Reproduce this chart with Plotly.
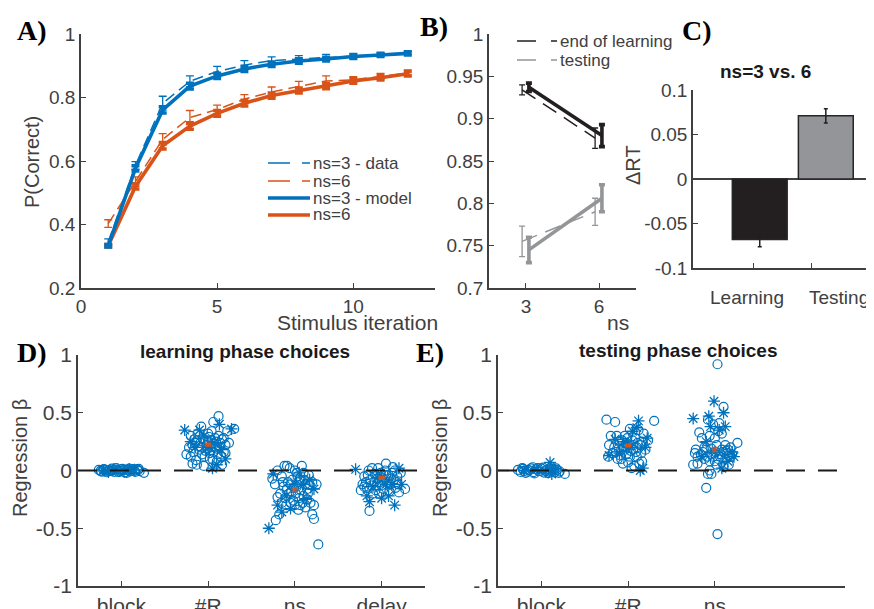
import plotly.graph_objects as go

W, H = 874, 609
PAGE_OFF = 8  # the page body offsets the figure by 8px

def px(x):
    return (x - PAGE_OFF) / W

def py(y):
    return 1 - (y - PAGE_OFF) / H

BLUE = "#0072BD"
RED = "#D95319"
DARK = "#231F20"
GRAY = "#939598"
AX = "#404040"
FONT = "Liberation Sans, Arial, Helvetica, sans-serif"
SERIF = "Liberation Serif, Times New Roman, serif"

# ---------------- Panel A data ----------------
iters = [1, 2, 3, 4, 5, 6, 7, 8, 9, 10, 11, 12]
a_ns3_data = [0.345, 0.586, 0.782, 0.851, 0.882, 0.902, 0.916, 0.922, 0.926, 0.930, 0.935, 0.940]
a_ns3_data_err = [0.010, 0.012, 0.022, 0.017, 0.016, 0.014, 0.012, 0.010, 0.010, 0.008, 0.006, 0.005]
a_ns6_data = [0.403, 0.535, 0.668, 0.737, 0.762, 0.795, 0.817, 0.835, 0.852, 0.856, 0.866, 0.877]
a_ns6_data_err = [0.012, 0.015, 0.018, 0.022, 0.014, 0.014, 0.016, 0.016, 0.016, 0.010, 0.010, 0.010]
a_ns3_model = [0.333, 0.577, 0.761, 0.836, 0.868, 0.890, 0.905, 0.915, 0.921, 0.929, 0.934, 0.939]
a_ns3_model_err = [0.004, 0.008, 0.010, 0.009, 0.008, 0.008, 0.007, 0.007, 0.006, 0.006, 0.005, 0.005]
a_ns6_model = [0.333, 0.520, 0.648, 0.710, 0.750, 0.782, 0.806, 0.822, 0.836, 0.852, 0.862, 0.875]
a_ns6_model_err = [0.004, 0.008, 0.010, 0.010, 0.009, 0.009, 0.008, 0.008, 0.008, 0.007, 0.007, 0.007]
a_legend = ["ns=3 - data", "ns=6", "ns=3 - model", "ns=6"]

# ---------------- Panel B data ----------------
b_ns = [3, 6]
b_end_data = [0.934, 0.877]
b_end_data_err = [0.006, 0.012]
b_end_model = [0.937, 0.880]
b_end_model_err = [0.005, 0.013]
b_test_data = [0.755, 0.790]
b_test_data_err = [0.018, 0.016]
b_test_model = [0.745, 0.806]
b_test_model_err = [0.015, 0.016]
b_legend = ["end of learning", "testing"]

# ---------------- Panel C data ----------------
c_labels = ["Learning", "Testing"]
c_values = [-0.068, 0.071]
c_err = [0.008, 0.008]

# ---------------- Panel D/E data ----------------
d_cats = ["block", "#R", "ns", "delay"]
e_cats = ["block", "#R", "ns"]
d_means = [0.0, 0.225, -0.165, -0.065]
d_sems = [0.004, 0.012, 0.016, 0.010]
e_means = [0.0, 0.215, 0.182]
e_sems = [0.004, 0.010, 0.018]

# (offset, beta) pairs per cluster
d_block_circles = [(-0.26, 0.005), (-0.23, -0.01), (-0.2, 0.012), (-0.17, -0.015), (-0.14, 0.003),
                   (-0.11, 0.016), (-0.08, -0.012), (-0.05, 0.008), (-0.02, -0.004), (0.01, 0.014),
                   (0.04, -0.016), (0.07, 0.006), (0.1, -0.008), (0.13, 0.012), (0.16, -0.012),
                   (0.19, 0.004), (0.21, -0.006), (-0.24, -0.004), (-0.18, 0.0), (-0.12, -0.006),
                   (-0.06, 0.02), (0.0, 0.0), (0.06, -0.02), (0.12, 0.0), (0.18, 0.012), (0.26, -0.02),
                   (-0.21, 0.008), (-0.15, -0.008), (-0.09, 0.004), (-0.03, -0.014), (0.03, 0.006),
                   (0.09, 0.016), (0.15, -0.004), (0.2, 0.014)]
d_block_stars = [(-0.21, 0.0), (-0.09, 0.01), (0.03, -0.01), (0.15, 0.006), (-0.15, -0.012), (0.09, 0.014)]

d_R_circles = [(-0.25, 0.14), (-0.22, 0.2), (-0.2, 0.3), (-0.18, 0.06), (-0.15, 0.24), (-0.13, 0.05),
               (-0.1, 0.18), (-0.08, 0.38), (-0.06, 0.28), (-0.04, 0.12), (-0.02, 0.22), (0.0, 0.32),
               (0.02, 0.15), (0.04, 0.26), (0.06, 0.42), (0.08, 0.2), (0.1, 0.08), (0.12, 0.3),
               (0.14, 0.24), (0.16, 0.05), (0.18, 0.16), (0.2, 0.22), (0.22, 0.34), (0.3, 0.36),
               (0.12, 0.47), (-0.12, 0.32), (0.05, 0.1), (-0.05, 0.04), (0.15, 0.12), (-0.17, 0.16),
               (0.0, 0.25), (0.08, 0.28), (-0.09, 0.24), (0.1, 0.19), (0.18, 0.28), (-0.2, 0.12),
               (0.03, 0.2), (0.11, 0.14), (-0.14, 0.09), (0.24, 0.24), (-0.03, 0.17), (0.07, 0.23),
               (-0.11, 0.21), (0.01, 0.29), (0.13, 0.2), (-0.07, 0.14), (0.04, 0.34), (-0.16, 0.27),
               (-0.01, 0.19), (0.06, 0.16), (-0.08, 0.2), (0.09, 0.25), (-0.13, 0.26), (0.16, 0.27),
               (-0.04, 0.26), (0.02, 0.1), (-0.18, 0.22), (0.2, 0.15)]
d_R_stars = [(-0.27, 0.35), (-0.1, 0.35), (0.27, 0.36), (0.05, 0.02), (-0.05, 0.3), (0.1, 0.05),
             (0.0, 0.2), (0.15, 0.18), (-0.2, 0.25), (0.2, 0.1), (-0.15, 0.2), (0.07, 0.24), (0.13, 0.4)]

d_ns_circles = [(-0.26, -0.07), (-0.23, -0.12), (-0.2, -0.23), (-0.17, -0.2), (-0.15, -0.05), (-0.12, 0.04),
                (-0.1, -0.3), (-0.08, -0.1), (-0.06, 0.02), (-0.04, -0.18), (-0.02, -0.26), (0.0, 0.0),
                (0.02, -0.14), (0.04, -0.34), (0.06, -0.08), (0.08, 0.04), (0.1, -0.22), (0.12, -0.12),
                (0.14, -0.16), (0.16, -0.04), (0.18, -0.28), (0.2, -0.1), (0.22, -0.3), (0.25, -0.12),
                (-0.22, -0.43), (-0.18, -0.38), (0.2, -0.38), (0.22, -0.42), (0.27, -0.64), (-0.09, 0.04),
                (0.03, -0.05), (-0.13, -0.14), (0.1, -0.02), (-0.03, -0.08), (0.05, -0.24), (0.15, -0.2),
                (-0.07, -0.2), (0.0, -0.3), (0.12, -0.32), (-0.2, 0.0), (-0.01, -0.15), (0.07, -0.17),
                (-0.11, -0.24), (0.09, -0.28), (-0.05, -0.12), (0.17, -0.12), (0.04, -0.1), (-0.15, -0.28),
                (-0.09, -0.16), (0.01, -0.2), (0.11, -0.08), (-0.05, -0.28), (0.06, -0.3), (-0.14, -0.1),
                (0.14, -0.25), (0.02, -0.02)]
d_ns_stars = [(-0.3, -0.5), (-0.15, -0.36), (-0.05, -0.33), (0.05, -0.02), (0.1, -0.12), (0.17, -0.08),
              (0.22, -0.16), (-0.1, -0.22), (0.0, -0.12), (-0.2, -0.3), (0.13, -0.25), (-0.25, -0.03)]

d_delay_circles = [(-0.24, -0.17), (-0.22, -0.12), (-0.2, -0.05), (-0.17, -0.15), (-0.15, 0.0), (-0.13, -0.08),
                   (-0.1, -0.2), (-0.08, -0.03), (-0.06, -0.14), (-0.04, 0.02), (-0.02, -0.1), (0.0, -0.06),
                   (0.02, -0.16), (0.04, 0.0), (0.06, -0.1), (0.08, -0.04), (0.1, -0.12), (0.12, -0.02),
                   (0.14, -0.08), (0.16, -0.15), (0.18, -0.05), (0.2, -0.19), (0.22, -0.02), (0.27, -0.16),
                   (-0.14, -0.35), (0.05, 0.06), (-0.03, -0.2), (0.09, -0.18), (-0.18, -0.1), (0.13, 0.03),
                   (0.0, -0.13), (-0.08, -0.1), (0.11, -0.07), (-0.11, 0.02), (-0.01, -0.02), (0.07, -0.13),
                   (-0.12, -0.13), (0.03, -0.08), (0.17, -0.1), (-0.05, -0.07), (-0.16, -0.04), (0.19, -0.12),
                   (-0.07, -0.17), (0.05, -0.04), (0.15, 0.0), (-0.2, -0.14)]
d_delay_stars = [(-0.3, 0.01), (-0.17, -0.22), (-0.14, -0.27), (0.0, -0.24), (0.08, -0.22), (0.15, -0.3),
                 (0.2, 0.02), (0.23, -0.12), (-0.05, -0.06), (0.05, -0.12), (-0.1, -0.14), (0.12, -0.12)]

e_block_circles = [(-0.27, 0.005), (-0.24, -0.012), (-0.21, 0.014), (-0.18, -0.02), (-0.15, 0.006),
                   (-0.12, 0.018), (-0.09, -0.014), (-0.06, 0.01), (-0.03, -0.006), (0.0, 0.016),
                   (0.03, -0.018), (0.06, 0.008), (0.09, -0.01), (0.12, 0.014), (0.15, -0.016),
                   (0.18, 0.004), (0.21, -0.008), (-0.2, -0.004), (-0.14, 0.0), (-0.08, -0.025),
                   (0.02, 0.025), (0.08, -0.022), (0.14, 0.01), (0.27, -0.03), (-0.1, 0.028), (0.11, 0.03),
                   (-0.22, 0.02), (-0.16, -0.01), (-0.04, 0.02), (0.05, -0.005), (0.17, 0.018), (0.2, -0.02)]
e_block_stars = [(0.1, 0.07), (-0.2, 0.0), (-0.05, 0.01), (0.05, -0.01), (0.16, 0.006), (0.12, -0.03)]

e_R_circles = [(-0.25, 0.44), (-0.22, 0.22), (-0.2, 0.3), (-0.18, 0.15), (-0.15, 0.42), (-0.12, 0.1),
               (-0.1, 0.25), (-0.08, 0.18), (-0.06, 0.06), (-0.04, 0.3), (-0.02, 0.14), (0.0, 0.22),
               (0.02, 0.36), (0.04, 0.02), (0.06, 0.18), (0.08, 0.28), (0.1, 0.12), (0.12, 0.35),
               (0.14, 0.22), (0.16, 0.08), (0.2, 0.18), (0.23, 0.26), (0.3, 0.43), (-0.23, 0.12),
               (0.07, 0.04), (-0.03, 0.2), (0.11, 0.24), (-0.13, 0.3), (0.02, 0.12), (0.18, 0.32),
               (-0.07, 0.26), (0.09, 0.16), (0.0, 0.07), (-0.16, 0.2), (0.13, 0.06), (-0.01, 0.28),
               (0.05, 0.26), (-0.09, 0.13), (0.15, 0.15), (-0.05, 0.21), (0.03, 0.17), (-0.11, 0.19),
               (-0.14, 0.16), (0.06, 0.22), (-0.02, 0.24), (0.1, 0.2), (-0.08, 0.1), (0.16, 0.25)]
e_R_stars = [(-0.22, 0.13), (0.1, 0.37), (0.12, 0.43), (0.22, 0.28), (0.17, 0.02), (0.14, 0.0),
             (-0.05, 0.25), (0.05, 0.34), (0.0, 0.2), (-0.1, 0.15), (0.2, 0.2), (-0.15, 0.27)]

e_ns_circles = [(-0.25, 0.05), (-0.22, 0.18), (-0.2, 0.12), (-0.18, 0.33), (-0.15, 0.28), (-0.12, 0.1),
                (-0.1, 0.18), (-0.08, 0.44), (-0.06, 0.3), (-0.04, 0.14), (-0.02, 0.4), (0.0, 0.08),
                (0.02, 0.22), (0.04, 0.34), (0.06, 0.12), (0.08, 0.18), (0.1, 0.55), (0.12, 0.1),
                (0.14, 0.15), (0.16, 0.05), (0.18, 0.2), (0.2, 0.14), (0.26, 0.24), (0.03, 0.92),
                (0.03, -0.55), (-0.1, -0.15), (-0.08, -0.03), (-0.04, -0.03), (-0.06, 0.0), (0.05, 0.41),
                (-0.2, 0.06), (0.0, 0.28), (0.1, 0.03), (-0.14, 0.16), (0.15, 0.18), (0.08, 0.32),
                (-0.02, 0.12), (0.12, 0.22), (-0.16, 0.14), (-0.09, 0.12), (0.01, 0.16), (0.07, 0.14),
                (0.18, 0.12), (-0.04, 0.19), (0.13, 0.17), (-0.23, 0.15), (-0.12, 0.2), (0.04, 0.1),
                (0.1, 0.16), (-0.06, 0.08), (0.16, 0.13), (0.02, 0.05)]
e_ns_stars = [(-0.25, 0.45), (-0.07, 0.47), (-0.01, 0.6), (0.1, 0.5), (0.12, 0.38), (0.05, 0.35),
              (-0.05, 0.38), (0.2, 0.16), (0.08, 0.02), (-0.15, 0.12), (0.0, 0.16), (0.15, 0.08),
              (-0.1, 0.25), (0.22, 0.12)]

d_clusters = [(d_block_circles, d_block_stars), (d_R_circles, d_R_stars),
              (d_ns_circles, d_ns_stars), (d_delay_circles, d_delay_stars)]
e_clusters = [(e_block_circles, e_block_stars), (e_R_circles, e_R_stars),
              (e_ns_circles, e_ns_stars)]

fig = go.Figure()

# ---------- Panel A traces ----------
DATA_DASH = "11px,6px"
for vals, errs, col in [(a_ns3_data, a_ns3_data_err, BLUE), (a_ns6_data, a_ns6_data_err, RED)]:
    fig.add_trace(go.Scatter(
        x=iters, y=vals, mode="lines", xaxis="x", yaxis="y",
        line=dict(color=col, width=1.5, dash=DATA_DASH),
        error_y=dict(type="data", array=errs, color=col, thickness=1.3, width=4),
        showlegend=False, hoverinfo="skip"))
for vals, errs, col in [(a_ns6_model, a_ns6_model_err, RED), (a_ns3_model, a_ns3_model_err, BLUE)]:
    fig.add_trace(go.Scatter(
        x=iters, y=vals, mode="lines", xaxis="x", yaxis="y",
        line=dict(color=col, width=3.6),
        error_y=dict(type="data", array=errs, color=col, thickness=3.6, width=4),
        showlegend=False, hoverinfo="skip"))

# ---------- Panel B traces ----------
B_DATA_OFF = -0.16
B_MODEL_OFF = 0.12
b_x_data = [v + B_DATA_OFF for v in b_ns]
b_x_model = [v + B_MODEL_OFF for v in b_ns]
for vals, errs, col in [(b_end_data, b_end_data_err, DARK), (b_test_data, b_test_data_err, GRAY)]:
    fig.add_trace(go.Scatter(
        x=b_x_data, y=vals, mode="lines", xaxis="x2", yaxis="y2",
        line=dict(color=col, width=1.5, dash="16px,9px"),
        error_y=dict(type="data", array=errs, color=col, thickness=1.3, width=3),
        showlegend=False, hoverinfo="skip"))
for vals, errs, col in [(b_end_model, b_end_model_err, DARK), (b_test_model, b_test_model_err, GRAY)]:
    fig.add_trace(go.Scatter(
        x=b_x_model, y=vals, mode="lines", xaxis="x2", yaxis="y2",
        line=dict(color=col, width=3.6),
        error_y=dict(type="data", array=errs, color=col, thickness=3.6, width=3),
        showlegend=False, hoverinfo="skip"))

# ---------- Panel C ----------
C_POS = [1, 2]
fig.add_trace(go.Bar(
    x=C_POS, y=c_values, xaxis="x3", yaxis="y3", width=0.83,
    marker=dict(color=[DARK, GRAY], line=dict(color="#262626", width=1.5)),
    error_y=dict(type="data", array=c_err, color=DARK, thickness=1.5, width=2),
    showlegend=False, hoverinfo="skip"))

# ---------- Panels D / E ----------
def add_clusters(clusters, xa, ya):
    for i, (circ, stars) in enumerate(clusters):
        c = i + 1
        fig.add_trace(go.Scatter(
            x=[c + d for d, _ in circ], y=[v for _, v in circ], mode="markers",
            xaxis=xa, yaxis=ya,
            marker=dict(symbol="circle-open", size=9, color=BLUE, line=dict(width=1.2)),
            showlegend=False, hoverinfo="skip"))
        fig.add_trace(go.Scatter(
            x=[c + d for d, _ in stars], y=[v for _, v in stars], mode="markers",
            xaxis=xa, yaxis=ya,
            marker=dict(symbol="asterisk-open", size=10, color=BLUE, line=dict(width=1.3, color=BLUE)),
            showlegend=False, hoverinfo="skip"))

add_clusters(d_clusters, "x4", "y4")
add_clusters(e_clusters, "x5", "y5")

fig.add_trace(go.Scatter(
    x=[i + 1 for i in range(len(d_cats))], y=d_means, mode="markers", xaxis="x4", yaxis="y4",
    marker=dict(symbol="line-ew", size=5, color=RED, line=dict(width=1.5, color=RED)),
    error_y=dict(type="data", array=d_sems, color=RED, thickness=1.5, width=3),
    showlegend=False, hoverinfo="skip"))
fig.add_trace(go.Scatter(
    x=[i + 1 for i in range(len(e_cats))], y=e_means, mode="markers", xaxis="x5", yaxis="y5",
    marker=dict(symbol="line-ew", size=5, color=RED, line=dict(width=1.5, color=RED)),
    error_y=dict(type="data", array=e_sems, color=RED, thickness=1.5, width=3),
    showlegend=False, hoverinfo="skip"))

# ---------- axes ----------
def axstyle(size=19, **kw):
    d = dict(showline=True, linecolor=AX, linewidth=1.5, ticks="inside", ticklen=5,
             tickcolor=AX, tickwidth=1.2, showgrid=False, zeroline=False, automargin=False,
             tickfont=dict(family=FONT, size=size, color=AX), fixedrange=True)
    d.update(kw)
    return d

LEFT_A, RIGHT_A, TOP_A, BOT_A = 81, 435, 34, 288
LEFT_B, RIGHT_B = 489, 636
LEFT_C, RIGHT_C, TOP_C, BOT_C = 693, 880, 90, 268
LEFT_D, RIGHT_D, TOP_D, BOT_D = 78, 425, 355, 586
LEFT_E, RIGHT_E = 498, 845

fig.update_layout(
    width=W, height=H, margin=dict(l=0, r=0, t=0, b=0, autoexpand=False),
    paper_bgcolor="white", plot_bgcolor="white",
    font=dict(family=FONT, color=AX),
    showlegend=False,
    xaxis=axstyle(domain=[px(LEFT_A), px(RIGHT_A)], range=[0, 13], tickvals=[0, 5, 10], anchor="y"),
    yaxis=axstyle(domain=[py(BOT_A), py(TOP_A)], range=[0.2, 1.0],
                  tickvals=[0.2, 0.4, 0.6, 0.8, 1.0], ticktext=["0.2", "0.4", "0.6", "0.8", "1"], anchor="x"),
    xaxis2=axstyle(domain=[px(LEFT_B), px(RIGHT_B)], range=[1.48, 7.52], tickvals=b_ns, anchor="y2"),
    yaxis2=axstyle(domain=[py(BOT_A), py(TOP_A)], range=[0.7, 1.0],
                   tickvals=[0.7, 0.75, 0.8, 0.85, 0.9, 0.95, 1.0],
                   ticktext=["0.7", "0.75", "0.8", "0.85", "0.9", "0.95", "1"], anchor="x2"),
    xaxis3=axstyle(domain=[px(LEFT_C), px(RIGHT_C)], range=[-0.01, 2.82], tickvals=[0.91, 1.79],
                   ticktext=["", ""], anchor="y3"),
    yaxis3=axstyle(domain=[py(BOT_C), py(TOP_C)], range=[-0.1, 0.1],
                   tickvals=[-0.1, -0.05, 0, 0.05, 0.1], ticktext=["-0.1", "-0.05", "0", "0.05", "0.1"],
                   zeroline=True, zerolinecolor=AX, zerolinewidth=1.5, anchor="x3"),
    xaxis4=axstyle(size=21, domain=[px(LEFT_D), px(RIGHT_D)], range=[0.5, 4.5],
                   tickvals=[1, 2, 3, 4], ticktext=d_cats, anchor="y4"),
    yaxis4=axstyle(size=21, domain=[py(BOT_D), py(TOP_D)], range=[-1, 1],
                   tickvals=[-1, -0.5, 0, 0.5, 1], ticktext=["-1", "-0.5", "0", "0.5", "1"], anchor="x4"),
    xaxis5=axstyle(size=21, domain=[px(LEFT_E), px(RIGHT_E)], range=[0.5, 4.5],
                   tickvals=[1, 2, 3], ticktext=e_cats, anchor="y5"),
    yaxis5=axstyle(size=21, domain=[py(BOT_D), py(TOP_D)], range=[-1, 1],
                   tickvals=[-1, -0.5, 0, 0.5, 1], ticktext=["-1", "-0.5", "0", "0.5", "1"], anchor="x5"),
)

shapes = []
# zero dashed lines D/E (on top of markers)
for xr, yr in [("x4", "y4"), ("x5", "y5")]:
    shapes.append(dict(type="line", xref=xr, yref=yr, x0=0.5, x1=4.5, y0=0, y1=0,
                       line=dict(color="#1a1a1a", width=2.2, dash="19px,13px"), layer="above"))

# Legend A (manual)
leg_a_rows = [163, 181, 198, 215]
leg_a_styles = [(BLUE, 1.5, "22px,12px"), (RED, 1.5, "22px,12px"), (BLUE, 3.6, "solid"), (RED, 3.6, "solid")]
annotations = []
for yy, (col, lw, dash), txt in zip(leg_a_rows, leg_a_styles, a_legend):
    shapes.append(dict(type="line", xref="paper", yref="paper", x0=px(268), x1=px(310),
                       y0=py(yy), y1=py(yy), line=dict(color=col, width=lw, dash=dash)))
    annotations.append(dict(x=px(311), y=py(yy), xref="paper", yref="paper", text=txt,
                            showarrow=False, xanchor="left", yanchor="middle",
                            font=dict(family=FONT, size=17, color=AX)))

# Legend B (manual)
leg_b_rows = [41, 60]
for yy, col, txt in zip(leg_b_rows, [DARK, GRAY], b_legend):
    shapes.append(dict(type="line", xref="paper", yref="paper", x0=px(517), x1=px(557),
                       y0=py(yy), y1=py(yy), line=dict(color=col, width=1.5, dash="19px,15px")))
    annotations.append(dict(x=px(558), y=py(yy), xref="paper", yref="paper", text=txt,
                            showarrow=False, xanchor="left", yanchor="middle",
                            font=dict(family=FONT, size=17, color=AX)))

def ann(x, y, text, size=20, bold=False, angle=0, family=FONT, color=AX):
    t = f"<b>{text}</b>" if bold else text
    annotations.append(dict(x=px(x), y=py(y), xref="paper", yref="paper", text=t,
                            showarrow=False, xanchor="center", yanchor="middle", textangle=angle,
                            font=dict(family=family, size=size, color=color)))

# Axis titles
ann(32, 162, "P(Correct)", 20, angle=-90)
ann(357, 322, "Stimulus iteration", 21)
ann(618, 322, "ns", 21)
ann(633, 165, "ΔRT", 20, angle=-90)
ann(20, 458, "Regression β", 20, angle=-90)
ann(440, 458, "Regression β", 20, angle=-90)

# C category labels
for xx, lab in zip([747, 839], c_labels):
    ann(xx, 297, lab, 19)

# Titles
ann(765, 72, "ns=3 vs. 6", 19, bold=True, color="#1a1a1a")
ann(245, 351, "learning phase choices", 19, bold=True, color="#1a1a1a")
ann(678, 350, "testing phase choices", 19, bold=True, color="#1a1a1a")

# Panel letters
for xx, yy, lab in [(32, 31, "A)"), (434, 27, "B)"), (697, 31, "C)"), (32, 352, "D)"), (430, 352, "E)")]:
    ann(xx, yy, lab, 28, bold=True, family=SERIF, color="#000000")

fig.update_layout(shapes=shapes, annotations=annotations)
fig.write_html("out.html")
